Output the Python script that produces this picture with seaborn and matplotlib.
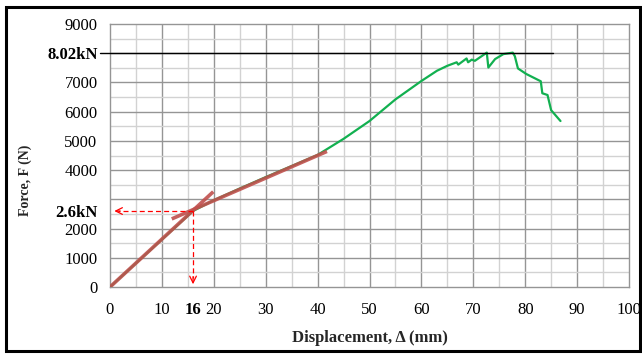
import numpy as np
import matplotlib
matplotlib.use("Agg")
import matplotlib.pyplot as plt
from matplotlib.patches import Rectangle
import seaborn as sns

# load-displacement curve
disp = [0, 4, 8, 12, 16, 20, 25, 30, 35, 40, 45, 50, 55, 60, 63, 65, 66.8, 67.1,
        68.7, 69.0, 69.7, 70.3, 72.6, 72.9, 74.2, 75.8, 77.6, 78.0, 78.6, 80.2,
        83.0, 83.3, 84.3, 85.0, 86.8]
force = [0, 650, 1300, 1950, 2600, 2970, 3370, 3760, 4140, 4520, 5070, 5680, 6420,
         7050, 7400, 7570, 7690, 7610, 7820, 7690, 7780, 7740, 8020, 7510, 7800,
         7970, 8020, 7900, 7480, 7290, 7040, 6630, 6570, 6050, 5680]

# tangent lines used to find the yield point
tan1_x = [0, 19.9]
tan1_y = [0, 3260]
tan2_x = [11.9, 41.8]
tan2_y = [2330, 4640]

yield_disp = 16
yield_force = 2600
peak_force = 8020
peak_line_end = 85.3

xticks = [0, 10, 16, 20, 30, 40, 50, 60, 70, 80, 90, 100]
xlabels = ["0", "10", "16", "20", "30", "40", "50", "60", "70", "80", "90", "100"]
yticks = [0, 1000, 2000, 2600, 4000, 5000, 6000, 7000, 8020, 9000]
ylabels = ["0", "1000", "2000", "2.6kN", "4000", "5000", "6000", "7000", "8.02kN", "9000"]

sns.set_style("white")
plt.rcParams["font.family"] = ["Liberation Serif", "DejaVu Serif"]

fig = plt.figure(figsize=(6.42, 3.54), dpi=100)
ax = fig.add_axes([110 / 642, 1 - 287 / 354, 519 / 642, 263 / 354])

# grid: light every 5 / 500, darker every 10 / 1000
for gx in np.arange(5, 100, 10):
    ax.axvline(gx, color="#d2d2d2", lw=1, zorder=0)
for gx in np.arange(10, 100, 10):
    ax.axvline(gx, color="#959595", lw=1, zorder=0)
for gy in np.arange(500, 9000, 1000):
    ax.axhline(gy, color="#d2d2d2", lw=1, zorder=0)
for gy in np.arange(1000, 9000, 1000):
    ax.axhline(gy, color="#959595", lw=1, zorder=0)

sns.lineplot(x=disp, y=force, sort=False, color="#12b050", lw=1.6, ax=ax, zorder=3)
ax.plot(tan1_x, tan1_y, color="#c0504d", lw=2.6, alpha=0.9, solid_capstyle="butt", zorder=4)
ax.plot(tan2_x, tan2_y, color="#c0504d", lw=2.6, alpha=0.9, solid_capstyle="butt", zorder=4)

# peak force line
ax.plot([-1.9, peak_line_end], [peak_force, peak_force], color="black", lw=1,
        clip_on=False, zorder=5)

# dashed arrows from yield point
ax.plot([yield_disp, 1.5], [yield_force, yield_force], color="red", lw=0.9,
        ls=(0, (4, 2.5)), zorder=5)
ax.annotate("", xy=(0.3, yield_force), xytext=(2.5, yield_force),
            arrowprops=dict(arrowstyle="->", color="red", lw=0.9, mutation_scale=12),
            zorder=5)
ax.plot([yield_disp, yield_disp], [yield_force, 300], color="red", lw=0.9,
        ls=(0, (4, 2.5)), zorder=5)
ax.annotate("", xy=(yield_disp, 0), xytext=(yield_disp, 450),
            arrowprops=dict(arrowstyle="->", color="red", lw=0.9, mutation_scale=12),
            zorder=5)

ax.set_xlim(0, 100)
ax.set_ylim(0, 9000)
ax.set_xticks(xticks)
ax.set_xticklabels(xlabels)
ax.set_yticks(yticks)
ax.set_yticklabels(ylabels)
ax.tick_params(axis="both", length=0, labelsize=12, colors="black")
ax.tick_params(axis="x", pad=11)
ax.tick_params(axis="y", pad=9)
for lab in ax.get_xticklabels():
    if lab.get_text() == "16":
        lab.set_fontweight("bold")
for lab in ax.get_yticklabels():
    if "kN" in lab.get_text():
        lab.set_fontweight("bold")

for sp in ax.spines.values():
    sp.set_color("#959595")
    sp.set_linewidth(1)

ax.set_xlabel("Displacement, \u0394 (mm)", fontsize=12, fontweight="bold")
ax.set_ylabel("Force, F (N)", fontsize=10, fontweight="bold")
ax.xaxis.set_label_coords(0.5, -0.163)
ax.yaxis.set_label_coords(-0.151, 0.407)

# outer frame
fig.patches.append(Rectangle((6 / 642, 3 / 354), 634 / 642, 344 / 354,
                             transform=fig.transFigure, fill=False,
                             edgecolor="black", lw=2.2))

fig.savefig("out.png", dpi=100)
